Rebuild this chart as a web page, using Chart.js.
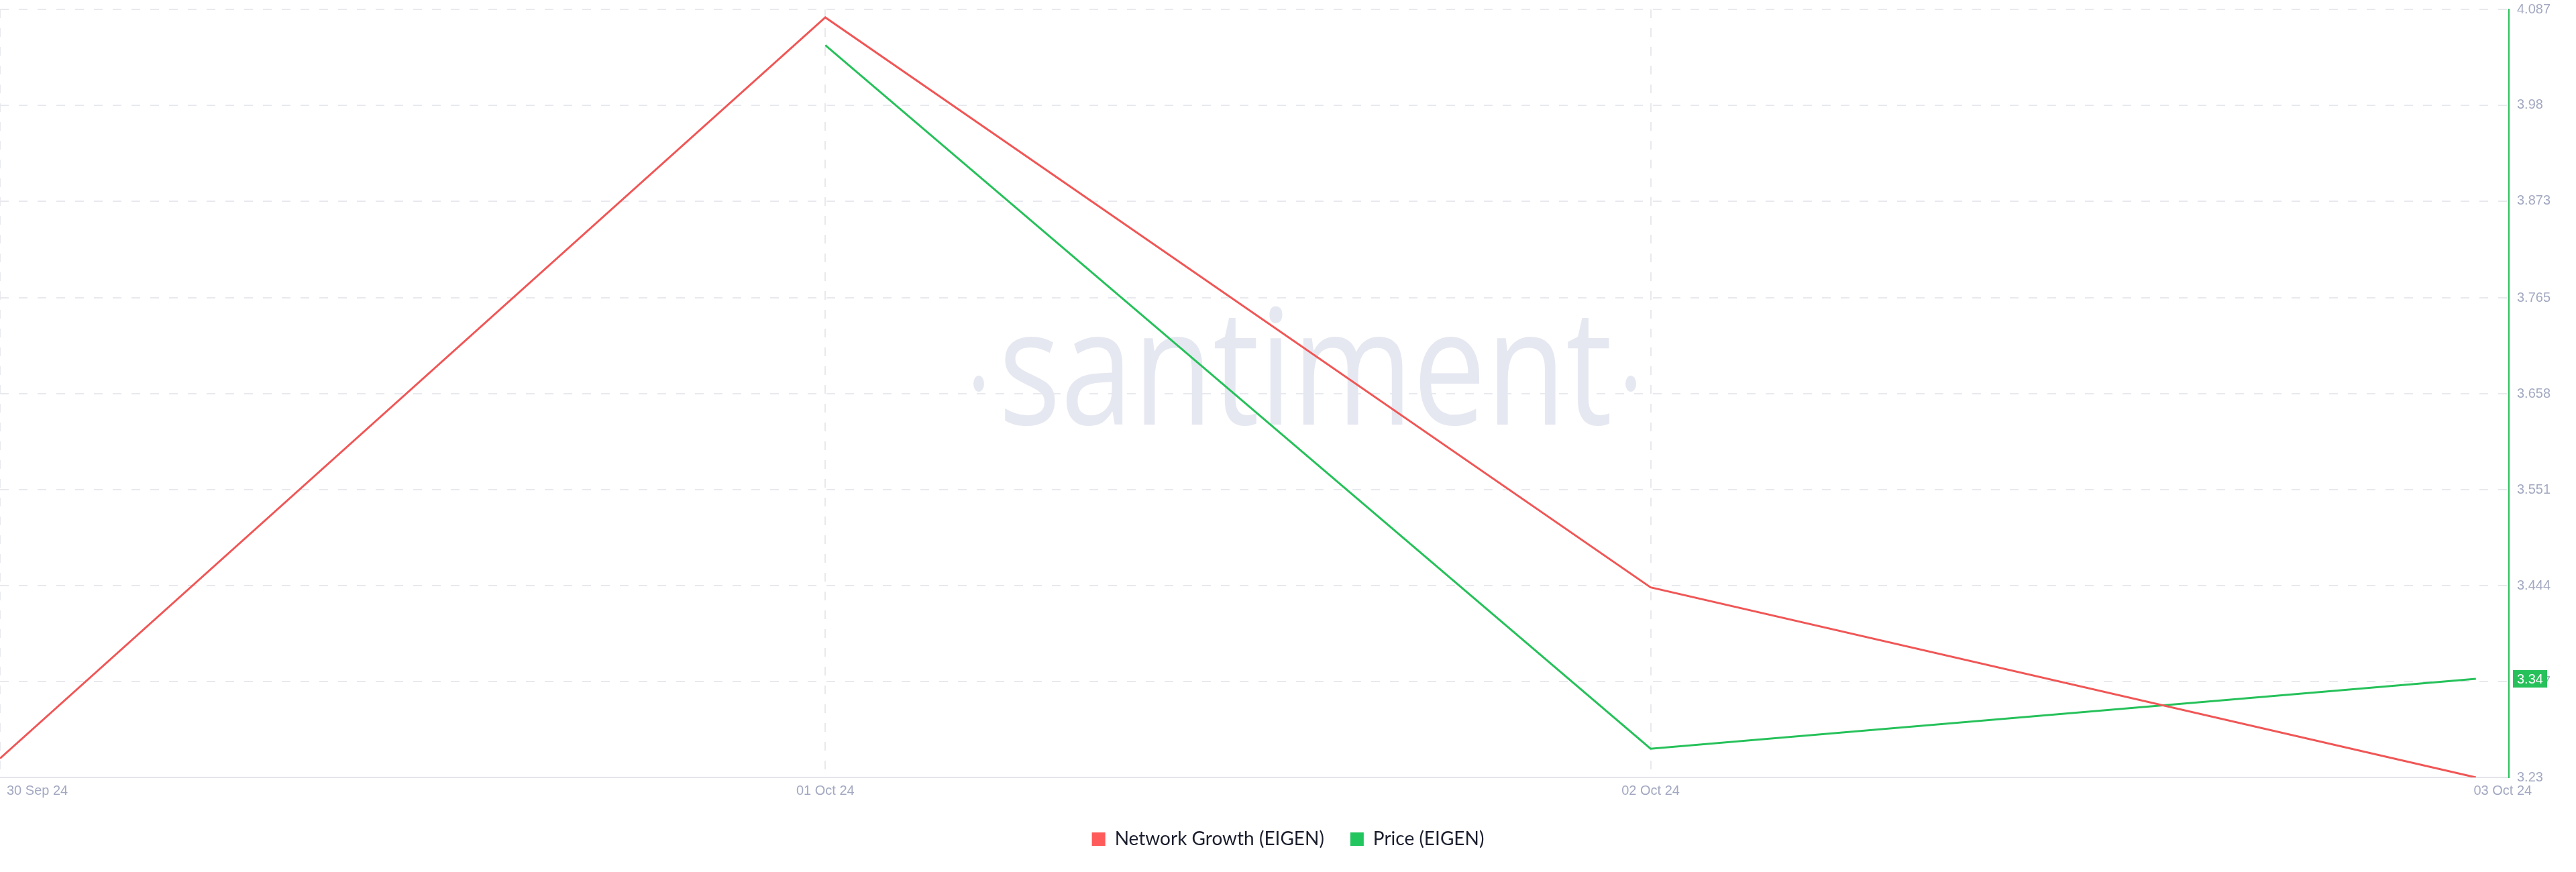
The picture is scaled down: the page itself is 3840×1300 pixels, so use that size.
<!DOCTYPE html>
<html>
<head>
<meta charset="utf-8">
<script src="https://cdn.jsdelivr.net/npm/chart.js@4.4.1/dist/chart.umd.min.js"></script>
<style>
  html, body { margin: 0; padding: 0; background: #fff; }
  #wrap { width: 3840px; height: 1300px; position: relative; }
</style>
</head>
<body>
<div id="wrap"><canvas id="myChart"></canvas></div>
<script>
const dates = ['30 Sep 24', '01 Oct 24', '02 Oct 24', '03 Oct 24'];
const networkGrowth = [11, 50, 20, 10];
const price = [null, 4.047, 3.262, 3.34];
const priceTicks = [3.23, 3.337, 3.444, 3.551, 3.658, 3.765, 3.873, 3.98, 4.087];
const priceTickLabels = ['3.23', '3.337', '3.444', '3.551', '3.658', '3.765', '3.873', '3.98', '4.087'];
const lastPriceLabel = '3.34';

const RED = '#f05656';
const GREEN = '#26c15a';
const GRID = '#e8e9ee';
const TICK = '#a3a9c1';

// santiment watermark behind the lines
const watermark = {
  id: 'watermark',
  beforeDatasetsDraw(chart) {
    const ctx = chart.ctx;
    ctx.save();
    ctx.fillStyle = '#e6e8f1';
    ctx.font = '240px "Open Sans"';
    ctx.textBaseline = 'alphabetic';
    ctx.textAlign = 'center';
    const w = ctx.measureText('santiment').width;
    ctx.translate(1946, 633);
    ctx.scale(915 / w, 1);
    ctx.fillText('santiment', 0, 0);
    ctx.restore();
    ctx.save();
    ctx.fillStyle = '#e6e8f1';
    [1459, 2431].forEach(function(x) {
      ctx.beginPath();
      ctx.ellipse(x, 572, 8, 12, 0, 0, Math.PI * 2);
      ctx.fill();
    });
    ctx.restore();
  }
};

// date labels under the x axis and the last price marker
const extras = {
  id: 'extras',
  afterDraw(chart) {
    const ctx = chart.ctx;
    const xs = chart.scales.x;
    const ys = chart.scales.y;
    const area = chart.chartArea;
    ctx.save();
    ctx.font = '20px "Liberation Sans", Arial, sans-serif';
    ctx.fillStyle = TICK;
    ctx.textBaseline = 'middle';
    dates.forEach(function(d, i) {
      let px = xs.getPixelForValue(i);
      if (i === 0) { ctx.textAlign = 'left'; px += 10; }
      else if (i === dates.length - 1) { ctx.textAlign = 'center'; px += 40; }
      else { ctx.textAlign = 'center'; }
      ctx.fillText(d, px, area.bottom + 20);
    });

    const py = ys.getPixelForValue(price[price.length - 1]);
    ctx.fillStyle = GREEN;
    ctx.fillRect(area.right + 6, py - 13, 51, 26);
    ctx.fillStyle = '#fff';
    ctx.textAlign = 'left';
    ctx.fillText(lastPriceLabel, area.right + 12, py + 1);
    ctx.restore();
  }
};

const config = {
  type: 'line',
  data: {
    datasets: [
      {
        label: 'Network Growth (EIGEN)',
        data: networkGrowth.map((v, i) => ({x: i, y: v})),
        borderColor: RED,
        backgroundColor: '#ff5b5b',
        borderWidth: 3,
        pointRadius: 0,
        tension: 0,
        yAxisID: 'y2',
      },
      {
        label: 'Price (EIGEN)',
        data: price.map((v, i) => ({x: i, y: v})),
        borderColor: GREEN,
        backgroundColor: '#22c55e',
        borderWidth: 3,
        pointRadius: 0,
        tension: 0,
        yAxisID: 'y',
      },
    ]
  },
  options: {
    responsive: true,
    maintainAspectRatio: false,
    animation: false,
    devicePixelRatio: 1,
    layout: { padding: { top: 14, left: 0, right: 0, bottom: 25 } },
    plugins: {
      tooltip: { enabled: false },
      legend: {
        position: 'bottom',
        labels: {
          boxWidth: 20,
          boxHeight: 20,
          padding: 39,
          color: '#1b1e2d',
          font: { family: 'Lato', size: 28 },
          generateLabels(chart) {
            return Chart.defaults.plugins.legend.labels.generateLabels(chart).map(function(l) {
              l.lineWidth = 0;
              l.strokeStyle = 'rgba(0,0,0,0)';
              return l;
            });
          }
        }
      }
    },
    scales: {
      x: {
        type: 'linear',
        min: 0,
        max: 3.04,
        afterBuildTicks(scale) { scale.ticks = dates.map((d, i) => ({value: i})); },
        afterFit(scale) { scale.height = 39; scale.paddingLeft = 0; scale.paddingRight = 0; },
        ticks: { display: false },
        grid: {
          color: (c) => c.index === dates.length - 1 ? 'rgba(0,0,0,0)' : GRID,
          lineWidth: 2,
          drawTicks: false,
        },
        border: { display: true, color: '#e3e5ea', width: 2, dash: [13, 15] },
      },
      y: {
        type: 'linear',
        position: 'right',
        min: priceTicks[0],
        max: priceTicks[priceTicks.length - 1],
        afterBuildTicks(scale) { scale.ticks = priceTicks.map(v => ({value: v})); },
        afterFit(scale) { scale.width = 100; scale.paddingTop = 0; scale.paddingBottom = 0; },
        ticks: {
          padding: 12,
          color: TICK,
          font: { family: '"Liberation Sans", Arial, sans-serif', size: 20 },
          callback: (v, i) => priceTickLabels[i],
        },
        grid: { color: GRID, lineWidth: 2, drawTicks: false },
        border: { display: true, color: GREEN, width: 2, dash: [13, 15] },
      },
      y2: {
        type: 'linear',
        display: false,
        min: 10,
        max: 50.42,
      }
    }
  },
  plugins: [watermark, extras]
};

const myChart = new Chart(document.getElementById('myChart').getContext('2d'), config);
</script>
</body>
</html>
